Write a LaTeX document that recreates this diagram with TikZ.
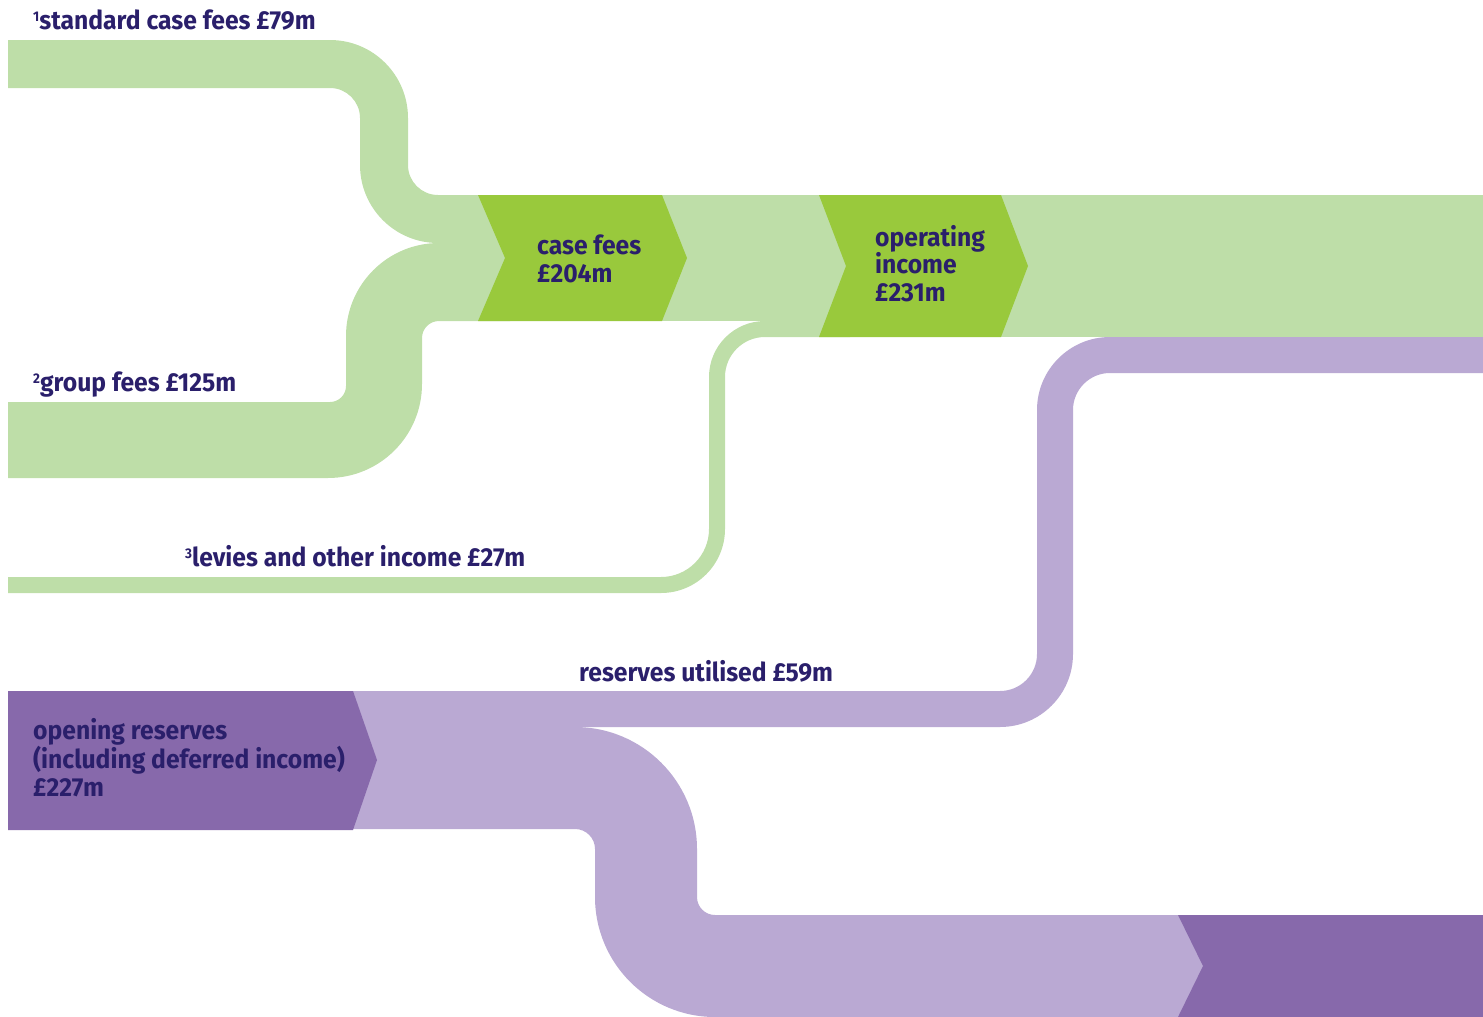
\documentclass[tikz,border=0pt]{standalone}
\usepackage{fontspec}
\usepackage{xcolor}
\newfontfamily\flowfont{Fira Sans}[FakeStretch=0.95]
\definecolor{paleleaf}{HTML}{BEDEA8}
\definecolor{leaf}{HTML}{99C93C}
\definecolor{palelilac}{HTML}{BAA9D3}
\definecolor{lilac}{HTML}{8769AB}
\definecolor{ink}{HTML}{2A1F6B}
\newcommand{\noteno}[1]{\raisebox{8pt}{\fontsize{14}{14}\selectfont #1}}

\begin{document}
\begin{tikzpicture}[x=1pt,y=-1pt,
	lbl/.style={anchor=base west,inner sep=0pt,text=ink,align=left,
		font=\flowfont\bfseries\fontsize{26}{27.3}\selectfont}]
	\useasboundingbox (0,0) rectangle (1483,1017);
	
	% income bands
	\fill[paleleaf] (8,40) -- (330,40) arc[start angle=-90,end angle=0,radius=78]
		-- (408,165) arc[start angle=180,end angle=90,radius=30]
		-- (510,195) -- (510,243) -- (438,243) arc[start angle=90,end angle=180,radius=78]
		-- (360,118) arc[start angle=0,end angle=-90,radius=30] -- (8,88) -- cycle;
	\fill[paleleaf] (8,402) -- (330,402) arc[start angle=90,end angle=0,radius=16]
		-- (346,336) arc[start angle=180,end angle=270,radius=93]
		-- (510,243) -- (510,321) -- (439,321) arc[start angle=270,end angle=180,radius=17]
		-- (422,384) arc[start angle=0,end angle=90,radius=94] -- (8,478) -- cycle;
	\fill[paleleaf] (8,577) -- (661,577) arc[start angle=90,end angle=0,radius=48]
		-- (709,377) arc[start angle=180,end angle=270,radius=56]
		-- (850,321) -- (850,337) -- (765,337) arc[start angle=270,end angle=180,radius=40]
		-- (725,529) arc[start angle=0,end angle=90,radius=64] -- (8,593) -- cycle;
	\fill[paleleaf] (660,195) rectangle (850,321);
	\fill[paleleaf] (1000,195) rectangle (1483,337);
	
	% reserve bands
	\fill[palelilac] (340,691) -- (1000,691) arc[start angle=90,end angle=0,radius=37]
		-- (1037,410) arc[start angle=180,end angle=270,radius=73]
		-- (1483,337) -- (1483,373) -- (1110,373) arc[start angle=270,end angle=180,radius=37]
		-- (1073,654) arc[start angle=0,end angle=90,radius=73] -- (340,727) -- cycle;
	\fill[palelilac] (340,727) -- (575,727) arc[start angle=-90,end angle=0,radius=122]
		-- (697,897) arc[start angle=180,end angle=90,radius=18]
		-- (1210,915) -- (1210,1017) -- (715,1017) arc[start angle=90,end angle=180,radius=120]
		-- (595,849) arc[start angle=0,end angle=-90,radius=20] -- (340,829) -- cycle;
	
	% chevrons
	\fill[leaf] (478,195) -- (662,195) -- (687,258) -- (662,321) -- (478,321) -- (505,258) -- cycle;
	\fill[leaf] (819,195) -- (1001,195) -- (1028,266) -- (1001,337) -- (819,337) -- (846,266) -- cycle;
	\fill[lilac] (8,691) -- (353,691) -- (377,760) -- (353,830) -- (8,830) -- cycle;
	\fill[lilac] (1178,915) -- (1483,915) -- (1483,1017) -- (1178,1017) -- (1203,966) -- cycle;
	
	% labels (multi-line ones sit on their last baseline)
	\node[lbl] (stdfees) at (33,29) {\noteno{1}standard case fees £79m};
	\node[lbl] (grpfees) at (33,391) {\noteno{2}group fees £125m};
	\node[lbl] (levies) at (185,566) {\noteno{3}levies and other income £27m};
	\node[lbl] (resused) at (579,681) {reserves utilised £59m};
	\node[lbl] (casefees) at (537,282) {case fees\\£204m};
	\node[lbl] (opincome) at (875,301) {operating\\income\\£231m};
	\node[lbl] (openres) at (33,796) {opening reserves\\(including deferred income)\\£227m};
\end{tikzpicture}
\end{document}
